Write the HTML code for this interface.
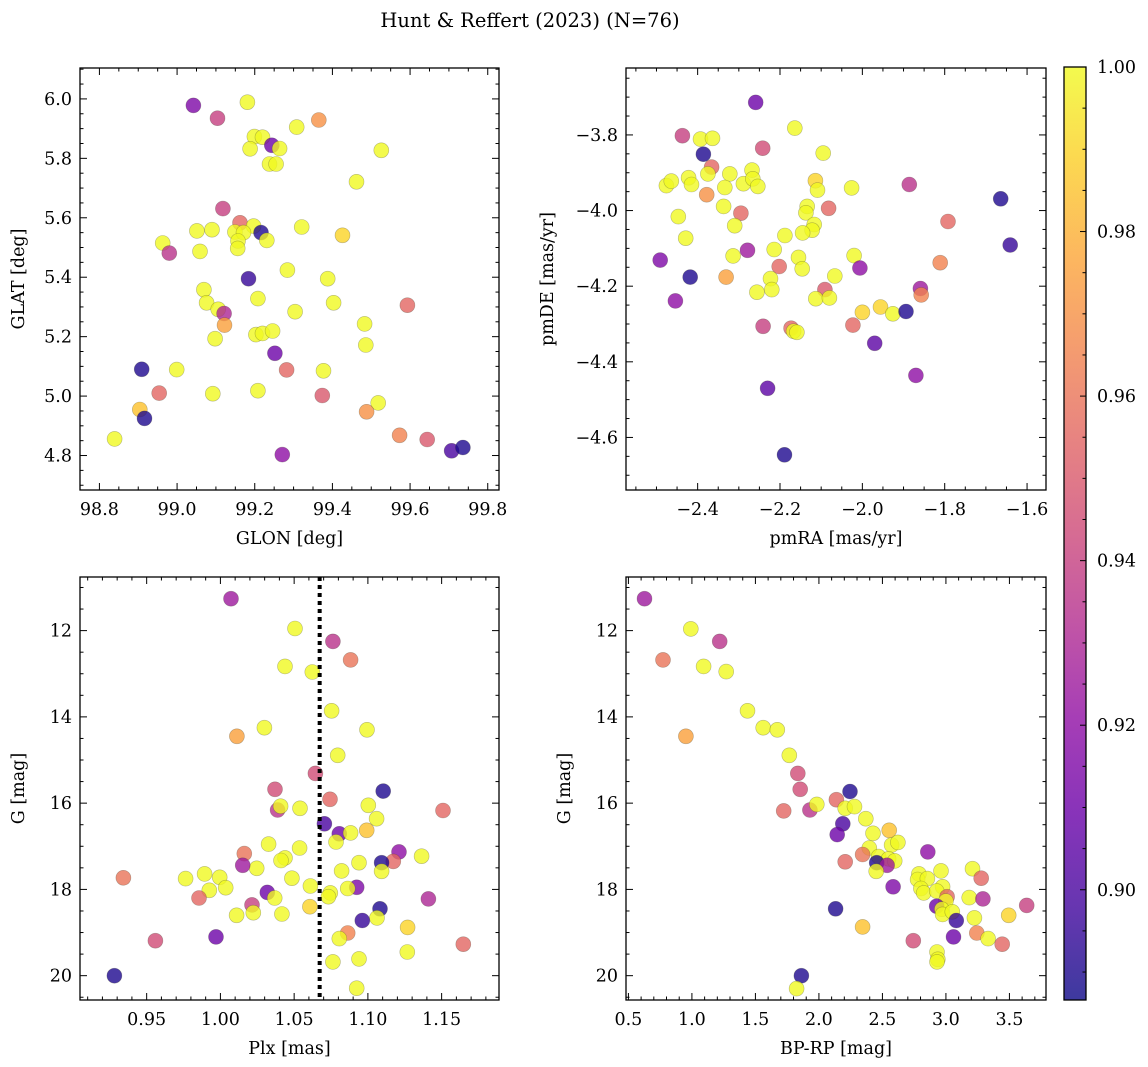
<!DOCTYPE html>
<html><head><meta charset="utf-8">
<style>
html,body{margin:0;padding:0;background:#fff;}
svg{display:block;font-family:"DejaVu Serif","Liberation Serif",serif;}
</style></head>
<body>
<svg id="fig" width="1148" height="1067" viewBox="0 0 1148 1067" xmlns="http://www.w3.org/2000/svg">
<text x="530" y="27" text-anchor="middle" font-size="19.5">Hunt &amp; Reffert (2023) (N=76)</text>
</svg>
<script>
// ---- data ----
const p1x=[99.042,99.104,99.181,99.365,99.308,99.199,99.220,99.244,99.264,99.188,99.238,99.255,99.526,99.462,99.118,99.162,99.051,99.090,99.197,99.216,99.149,99.171,99.231,99.157,99.156,98.963,98.980,99.059,99.321,99.426,99.284,99.184,99.388,99.069,99.076,99.106,99.121,99.403,99.304,99.593,99.208,99.122,99.098,99.203,99.220,99.246,99.483,99.486,99.252,98.909,98.999,99.282,99.377,98.954,99.092,99.208,99.374,99.518,99.488,98.904,98.916,98.839,99.271,99.573,99.644,99.707,99.736];
const p1y=[5.978,5.935,5.989,5.929,5.905,5.873,5.871,5.844,5.833,5.832,5.781,5.781,5.827,5.721,5.631,5.583,5.556,5.560,5.572,5.550,5.552,5.550,5.524,5.522,5.497,5.515,5.481,5.487,5.569,5.541,5.424,5.395,5.395,5.358,5.314,5.292,5.278,5.314,5.284,5.306,5.328,5.239,5.193,5.207,5.211,5.219,5.243,5.172,5.144,5.090,5.089,5.088,5.085,5.010,5.008,5.018,5.002,4.977,4.947,4.955,4.925,4.856,4.803,4.868,4.854,4.816,4.827];
const p1c=[0.915,0.94,1,0.97,1,1,1,0.91,1,1,1,1,1,1,0.94,0.955,1,1,1,0.89,1,1,1,1,1,1,0.935,1,1,0.99,1,0.895,1,1,1,1,0.93,1,1,0.955,1,0.975,1,1,1,1,1,1,0.91,0.89,1,0.955,1,0.955,1,1,0.95,1,0.97,0.985,0.89,1,0.92,0.965,0.95,0.9,0.89];

const p2x=[-2.259,-2.437,-2.393,-2.364,-2.164,-2.386,-2.242,-2.095,-2.366,-2.375,-2.322,-2.268,-2.476,-2.464,-2.422,-2.415,-2.334,-2.289,-2.266,-2.254,-2.378,-2.114,-2.109,-2.026,-1.886,-1.664,-2.337,-2.295,-2.134,-2.137,-2.082,-2.447,-2.310,-2.117,-2.122,-2.145,-2.188,-1.792,-2.429,-2.279,-2.214,-1.641,-2.491,-2.314,-2.155,-2.146,-2.202,-2.020,-2.006,-1.811,-2.418,-2.331,-2.223,-2.067,-2.220,-2.256,-2.091,-2.113,-2.080,-1.859,-1.857,-2.454,-2.000,-1.956,-1.926,-1.894,-2.241,-2.023,-2.173,-2.167,-2.159,-1.970,-1.870,-2.230,-2.189];
const p2y=[-3.714,-3.802,-3.811,-3.809,-3.782,-3.851,-3.835,-3.848,-3.885,-3.903,-3.903,-3.893,-3.934,-3.922,-3.913,-3.931,-3.939,-3.929,-3.916,-3.936,-3.958,-3.921,-3.946,-3.940,-3.931,-3.969,-3.989,-4.007,-3.989,-4.006,-3.994,-4.016,-4.040,-4.037,-4.052,-4.059,-4.066,-4.029,-4.073,-4.105,-4.103,-4.091,-4.131,-4.120,-4.124,-4.154,-4.148,-4.119,-4.152,-4.138,-4.176,-4.176,-4.180,-4.173,-4.209,-4.216,-4.209,-4.233,-4.231,-4.206,-4.223,-4.239,-4.269,-4.255,-4.273,-4.267,-4.306,-4.303,-4.311,-4.319,-4.322,-4.351,-4.436,-4.470,-4.646];
const p2c=[0.91,0.94,1,1,1,0.89,0.945,1,0.955,1,1,1,1,1,1,1,1,1,1,1,0.97,0.99,1,1,0.935,0.89,1,0.955,1,1,0.955,1,1,1,1,1,1,0.955,1,0.925,1,0.895,0.915,1,1,1,0.955,1,0.92,0.965,0.89,0.975,1,1,1,1,0.95,1,1,0.925,0.965,0.92,0.99,0.99,1,0.89,0.94,0.955,0.955,1,1,0.905,0.92,0.905,0.89];

const p3x=[1.0072,1.0506,1.0763,1.0883,1.0438,1.0623,1.0754,1.0298,1.0994,1.0112,1.0795,1.0644,1.0370,1.1104,1.0743,1.1509,1.0388,1.0408,1.0540,1.1003,1.1059,1.0705,1.0992,1.0806,1.0883,1.0784,1.0327,1.0537,1.0162,1.1211,1.1364,1.0438,1.0411,1.0246,1.0151,1.0940,1.1172,1.1093,1.1093,1.0822,0.9342,0.9764,0.9893,0.9995,1.0485,0.9925,1.0036,1.0610,1.0924,1.0863,1.0745,1.0732,0.9855,1.0318,1.0368,1.1410,1.0607,1.0214,1.0223,1.0417,1.0110,1.1082,1.1062,1.0962,1.1269,1.0863,1.0806,0.9970,0.9559,1.1647,1.1267,1.0940,1.0763,0.9281,1.0924];
const p3g=[11.26,11.95,12.25,12.68,12.83,12.96,13.86,14.25,14.30,14.45,14.89,15.31,15.68,15.72,15.91,16.17,16.16,16.07,16.12,16.05,16.36,16.48,16.63,16.71,16.69,16.90,16.95,17.04,17.17,17.13,17.23,17.27,17.33,17.51,17.44,17.38,17.35,17.38,17.58,17.57,17.73,17.75,17.64,17.72,17.74,18.02,17.96,17.92,17.95,17.98,18.08,18.17,18.20,18.07,18.20,18.22,18.40,18.36,18.54,18.57,18.60,18.45,18.66,18.72,18.88,19.01,19.14,19.10,19.19,19.27,19.45,19.61,19.68,20.00,20.29];
const p3c=[0.925,1,0.935,0.96,1,1,1,1,1,0.975,1,0.945,0.945,0.89,0.955,0.955,0.935,1,1,1,1,0.9,0.985,0.91,1,1,1,1,0.96,0.92,1,1,1,1,0.925,1,0.955,0.89,1,1,0.96,1,1,1,1,1,1,1,0.915,1,1,1,0.955,0.91,1,0.93,0.99,0.94,1,1,1,0.89,1,0.895,0.99,0.965,1,0.91,0.945,0.955,1,1,1,0.89,1];
const plxRef=[1.0673];

const p4x=[0.627,0.991,1.219,0.772,1.092,1.270,1.438,1.561,1.672,0.953,1.767,1.834,1.853,2.245,2.138,1.723,1.929,1.983,2.207,2.280,2.369,2.188,2.553,2.144,2.426,2.572,2.622,2.397,2.344,2.857,2.470,2.549,2.597,2.455,2.537,2.451,2.207,3.209,3.278,2.787,2.777,2.854,2.961,2.974,2.803,2.825,2.927,2.584,3.009,3.183,3.291,3.000,2.927,2.968,3.636,2.974,3.050,3.494,3.224,2.131,3.082,2.344,3.243,3.332,3.060,2.743,3.443,2.930,2.936,2.930,1.862,1.824];
const p4g=[11.26,11.96,12.25,12.68,12.83,12.95,13.86,14.25,14.30,14.45,14.89,15.31,15.68,15.73,15.92,16.18,16.16,16.03,16.12,16.08,16.36,16.48,16.63,16.73,16.70,16.97,16.91,17.04,17.19,17.13,17.24,17.29,17.34,17.38,17.44,17.58,17.36,17.52,17.74,17.64,17.77,17.75,17.57,17.94,17.98,18.08,18.04,17.94,18.17,18.19,18.22,18.27,18.39,18.46,18.37,18.58,18.52,18.60,18.66,18.45,18.72,18.87,19.01,19.14,19.10,19.19,19.27,19.45,19.62,19.68,20.00,20.30];
const p4c=[0.925,1,0.935,0.96,1,1,1,1,1,0.975,1,0.945,0.945,0.89,0.955,0.955,0.935,1,1,1,1,0.9,0.985,0.91,1,1,1,1,0.96,0.92,1,1,1,0.89,0.925,1,0.955,1,0.955,1,1,1,1,1,1,1,1,0.915,0.955,1,0.93,1,0.91,1,0.94,1,1,0.99,1,0.89,0.895,0.985,0.965,1,0.91,0.945,0.955,1,1,1,0.89,1];

const cbTicks=[0.90,0.92,0.94,0.96,0.98,1.00];
const cMin=0.8866, cMax=1.0;

// ---- helpers ----
const NS="http://www.w3.org/2000/svg";
const svg=document.getElementById('fig');
function mk(tag,attrs,parent){const e=document.createElementNS(NS,tag);for(const k in attrs)e.setAttribute(k,attrs[k]);(parent||svg).appendChild(e);return e;}
const plasma=[[13,8,135],[65,4,157],[106,0,168],[143,13,164],[177,42,144],[204,71,120],[225,100,98],[242,132,75],[252,166,54],[252,206,37],[240,249,33]];
function cmap(v){let t=(v-cMin)/(cMax-cMin);t=Math.max(0,Math.min(1,t));const f=t*10,i=Math.min(9,Math.floor(f)),r=f-i;const a=plasma[i],b=plasma[i+1];
return 'rgb('+[0,1,2].map(k=>Math.round(a[k]+(b[k]-a[k])*r)).join(',')+')';}
const FS=17.5;

function panel(cfg){
  const g=mk('g',{});
  
  
  const {L,T,R,B}=cfg;
  const sx=v=>L+(v-cfg.x0)/(cfg.x1-cfg.x0)*(R-L);
  const sy=cfg.invert? v=>T+(v-cfg.y0)/(cfg.y1-cfg.y0)*(B-T) : v=>B-(v-cfg.y0)/(cfg.y1-cfg.y0)*(B-T);
  const pg=mk('g',{},g);
  
  
  for(let i=0;i<cfg.xs.length;i++){
    const c=mk('circle',{cx:sx(cfg.xs[i]).toFixed(1),cy:sy(cfg.ys[i]).toFixed(1),r:7.5,fill:cmap(cfg.cs[i]),'fill-opacity':0.8,stroke:'rgba(60,60,40,0.35)','stroke-width':0.6},pg);
    
    
  }
  if(cfg.vline){
    const ln=mk('line',{x1:sx(cfg.vline[0]),x2:sx(cfg.vline[0]),y1:T,y2:B,stroke:'#000','stroke-width':4,'stroke-dasharray':'4,4'},g);
    
    
  }
  const fr=mk('rect',{x:L,y:T,width:R-L,height:B-T,fill:'none',stroke:'#000','stroke-width':1.3},g);
  
  
  const eps=1e-6;
  for(let v=Math.ceil(cfg.x0/cfg.xmin-eps)*cfg.xmin; v<=cfg.x1+eps; v+=cfg.xmin){
    const isMaj=Math.abs(v/cfg.xmaj-Math.round(v/cfg.xmaj))<1e-4;const l=isMaj?7:3.5;const x=sx(v);
    mk('line',{x1:x,x2:x,y1:B,y2:B-l,stroke:'#000','stroke-width':1},g);
    mk('line',{x1:x,x2:x,y1:T,y2:T+l,stroke:'#000','stroke-width':1},g);
    if(isMaj){const t=mk('text',{x:x,y:B+25,'text-anchor':'middle','font-size':FS},g);t.textContent=(Math.abs(v)<eps?0:v).toFixed(cfg.xdec).replace('-','\u2212');
      }
  }
  for(let v=Math.ceil(cfg.y0/cfg.ymin-eps)*cfg.ymin; v<=cfg.y1+eps; v+=cfg.ymin){
    const isMaj=Math.abs(v/cfg.ymaj-Math.round(v/cfg.ymaj))<1e-4;const l=isMaj?7:3.5;const y=sy(v);
    mk('line',{x1:L,x2:L+l,y1:y,y2:y,stroke:'#000','stroke-width':1},g);
    mk('line',{x1:R,x2:R-l,y1:y,y2:y,stroke:'#000','stroke-width':1},g);
    if(isMaj){const t=mk('text',{x:L-8,y:y+6,'text-anchor':'end','font-size':FS},g);t.textContent=v.toFixed(cfg.ydec).replace('-','\u2212');
      }
  }
  const xl=mk('text',{x:(L+R)/2,y:B+54,'text-anchor':'middle','font-size':FS},g);xl.textContent=cfg.xlabel;
  
  const yx=cfg.ylx, yy=(T+B)/2;
  const yl=mk('text',{x:yx,y:yy,'text-anchor':'middle','font-size':FS,transform:'rotate(-90 '+yx+' '+yy+')'},g);yl.textContent=cfg.ylabel;
  
}

panel({name:'glon-glat-panel',L:80,T:68,R:499,B:490,x0:98.750,x1:99.829,y0:4.684,y1:6.104,xmaj:0.2,xmin:0.05,ymaj:0.2,ymin:0.05,xdec:1,ydec:1,xs:p1x,ys:p1y,cs:p1c,xlabel:'GLON [deg]',ylabel:'GLAT [deg]',ylx:24});
panel({name:'proper-motion-panel',L:626,T:68,R:1046,B:490,x0:-2.574,x1:-1.554,y0:-4.739,y1:-3.623,xmaj:0.2,xmin:0.05,ymaj:0.2,ymin:0.05,xdec:1,ydec:1,xs:p2x,ys:p2y,cs:p2c,xlabel:'pmRA [mas/yr]',ylabel:'pmDE [mas/yr]',ylx:553});
panel({name:'parallax-mag-panel',L:80,T:577,R:499,B:1000,x0:0.9048,x1:1.1889,y0:10.757,y1:20.564,invert:true,xmaj:0.05,xmin:0.01,ymaj:2,ymin:0.5,xdec:2,ydec:0,xs:p3x,ys:p3g,cs:p3c,vline:plxRef,xlabel:'Plx [mas]',ylabel:'G [mag]',ylx:24});
panel({name:'cmd-panel',L:626,T:577,R:1046,B:1000,x0:0.481,x1:3.788,y0:10.757,y1:20.564,invert:true,xmaj:0.5,xmin:0.1,ymaj:2,ymin:0.5,xdec:1,ydec:0,xs:p4x,ys:p4g,cs:p4c,xlabel:'BP-RP [mag]',ylabel:'G [mag]',ylx:570});

(function(){
  const L=1064,R=1086,T=67,B=1000;
  const g=mk('g',{});
  
  
  const defs=mk('defs',{},g);
  const lg=mk('linearGradient',{id:'cbg',x1:0,y1:1,x2:0,y2:0},defs);
  plasma.forEach((c,i)=>mk('stop',{offset:(i/10),'stop-color':'rgb('+c.join(',')+')'},lg));
  mk('rect',{x:L,y:T,width:R-L,height:B-T,fill:'url(#cbg)','fill-opacity':0.8},g);
  mk('rect',{x:L,y:T,width:R-L,height:B-T,fill:'none',stroke:'#000','stroke-width':1.3},g);
  const sy=v=>B-(v-cMin)/(cMax-cMin)*(B-T);
  for(let v=0.89;v<=1.0001;v+=0.005){
    const maj=Math.abs(v*50-Math.round(v*50))<1e-3;const y=sy(v);
    mk('line',{x1:R,x2:R-(maj?6:3.5),y1:y,y2:y,stroke:'#000','stroke-width':1},g);
  }
  cbTicks.forEach(v=>{const t=mk('text',{x:R+11,y:sy(v)+6,'font-size':FS},g);t.textContent=v.toFixed(2);
    });
})();
</script>
</body></html>
